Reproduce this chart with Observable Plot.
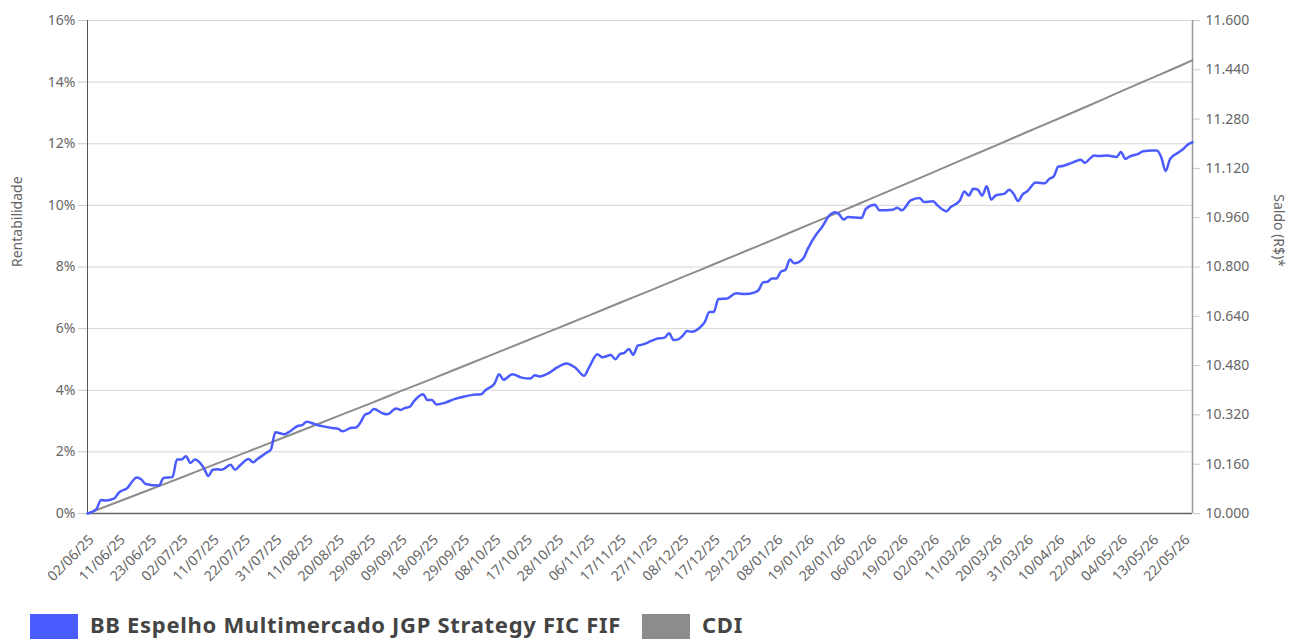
<!DOCTYPE html>
<html><head><meta charset="utf-8">
<script src="https://cdn.jsdelivr.net/npm/d3@7"></script>
<script src="https://cdn.jsdelivr.net/npm/@observablehq/plot@0.6"></script>
<style>
body{margin:0;background:#fff;font-family:"Noto Sans",sans-serif;}
#wrap{position:relative;width:1289px;height:639px;overflow:hidden;}
#legend{position:absolute;left:0;top:614px;width:1289px;height:25px;}
.item{position:absolute;top:0;display:flex;align-items:flex-start;}
.sw{width:48px;height:26px;margin-right:12px;}
.lab{font-family:"Noto Sans",sans-serif;font-weight:bold;font-size:22px;color:#444;line-height:22px;margin-top:-1px;letter-spacing:0.7px;}
</style></head><body>
<div id="wrap"><div id="chart"></div><div id="legend"></div></div>
<script>
// x tick labels (every 7 business days) and their business-day numbers
const tickLabels = ["02/06/25","11/06/25","23/06/25","02/07/25","11/07/25","22/07/25","31/07/25","11/08/25","20/08/25","29/08/25","09/09/25","18/09/25","29/09/25","08/10/25","17/10/25","28/10/25","06/11/25","17/11/25","27/11/25","08/12/25","17/12/25","29/12/25","08/01/26","19/01/26","28/01/26","06/02/26","19/02/26","02/03/26","11/03/26","20/03/26","31/03/26","10/04/26","22/04/26","04/05/26","13/05/26","22/05/26"];
const tickDays = [0,7,14,21,28,35,42,49,56,63,70,77,84,91,98,105,112,119,126,133,140,147,154,161,168,175,182,189,196,203,210,217,224,231,238,245];
const lastDay = 247;

// Fund (BB Espelho Multimercado JGP Strategy FIC FIF) accumulated return, %
const fundDay = [0,2,3,4,6,7,9,10,11,12,13,16,17,19,20,21,22,23,24,26,27,28,29,30,32,33,34,36,37,38,40,41,42,44,45,47,48,49,51,53,55,56,57,59,60,61,62,63,64,66,67,69,70,71,72,73,75,76,77,78,80,82,84,86,88,89,91,92,93,95,97,99,100,101,103,105,107,109,111,112,114,115,117,118,119,120,121,122,123,124,126,127,129,130,131,132,133,134,135,137,138,139,140,141,143,145,147,149,150,151,152,153,154,155,156,157,158,160,161,163,164,166,167,168,169,170,173,174,176,177,180,181,182,184,186,187,189,190,192,193,195,196,197,198,199,200,201,202,203,205,206,207,208,209,210,212,214,215,216,217,218,220,222,223,224,225,226,228,230,231,232,233,235,236,238,239,240,241,242,244,245,246,247];
const fundPct = [0,0.14,0.44,0.42,0.49,0.68,0.84,1.04,1.17,1.11,0.96,0.91,1.15,1.18,1.75,1.75,1.86,1.64,1.75,1.48,1.22,1.42,1.44,1.42,1.58,1.42,1.55,1.77,1.66,1.77,1.97,2.08,2.64,2.57,2.64,2.84,2.87,2.98,2.89,2.82,2.77,2.75,2.67,2.78,2.79,2.95,3.20,3.26,3.39,3.25,3.22,3.41,3.36,3.43,3.46,3.65,3.87,3.68,3.68,3.54,3.60,3.71,3.79,3.85,3.87,4.01,4.22,4.52,4.34,4.52,4.41,4.38,4.49,4.45,4.55,4.74,4.87,4.74,4.47,4.71,5.17,5.07,5.14,5.01,5.17,5.21,5.34,5.15,5.45,5.48,5.60,5.66,5.71,5.85,5.63,5.65,5.76,5.92,5.90,6.05,6.22,6.54,6.54,6.96,6.98,7.15,7.12,7.17,7.25,7.50,7.52,7.63,7.63,7.85,7.91,8.24,8.12,8.28,8.59,9.08,9.26,9.70,9.78,9.71,9.54,9.62,9.59,9.89,10.02,9.84,9.86,9.92,9.84,10.16,10.24,10.11,10.13,10.00,9.81,9.95,10.16,10.45,10.32,10.54,10.51,10.32,10.62,10.19,10.32,10.38,10.51,10.38,10.14,10.35,10.45,10.74,10.72,10.86,10.94,11.26,11.28,11.38,11.48,11.38,11.51,11.62,11.60,11.62,11.57,11.73,11.51,11.59,11.68,11.76,11.78,11.78,11.57,11.11,11.51,11.73,11.84,11.98,12.05];

// CDI accumulated return, %
const cdiDay = [0,7,14,21,28,35,42,49,56,63,70,77,84,91,98,105,112,119,126,133,140,147,154,161,168,175,182,189,196,203,210,217,224,231,238,245,247];
const cdiPct = [0,0.39,0.78,1.17,1.57,1.96,2.36,2.76,3.16,3.56,3.97,4.37,4.78,5.19,5.60,6.01,6.42,6.84,7.25,7.67,8.09,8.51,8.93,9.36,9.78,10.21,10.64,11.07,11.51,11.94,12.38,12.81,13.25,13.70,14.14,14.58,14.71];

// axes
const pctTicks = [0,2,4,6,8,10,12,14,16];
const saldoTicks = [10000,10160,10320,10480,10640,10800,10960,11120,11280,11440,11600];
const saldoBase = 10000;

const fund = fundDay.map((d,i)=>({day:d,pct:fundPct[i]}));
const cdi = cdiDay.map((d,i)=>({day:d,pct:cdiPct[i]}));
const labelByDay = new Map(tickDays.map((d,i)=>[d,tickLabels[i]]));
const br = d3.formatLocale({decimal:",",thousands:".",grouping:[3],currency:["R$",""]}).format(",d");
const saldoPos = saldoTicks.map(s => (s/saldoBase - 1)*100);
const saldoByPos = new Map(saldoPos.map((p,i)=>[p, br(saldoTicks[i])]));

const plot = Plot.plot({
  width:1289, height:605,
  marginLeft:87, marginRight:97, marginTop:20, marginBottom:92,
  style:{fontFamily:"Noto Sans", fontSize:"14px", color:"#666", background:"#fff"},
  x:{domain:[0,lastDay], axis:null},
  y:{domain:[0,16], axis:null},
  marks:[
    Plot.gridY(pctTicks, {stroke:"#d6d6d6", strokeOpacity:1, strokeWidth:1}),
    Plot.axisY({ticks:pctTicks, tickFormat:d=>d+"%", tickSize:9, tickPadding:3, stroke:"#c8c8c8", fill:"#666", fontSize:14, label:null}),
    Plot.axisY({anchor:"right", ticks:saldoPos, tickFormat:d=>saldoByPos.get(d), tickSize:7, tickPadding:6, stroke:"#c8c8c8", fill:"#666", fontSize:14, label:null}),
    Plot.axisX({ticks:tickDays, tickFormat:d=>labelByDay.get(d), tickRotate:-45, tickSize:0, tickPadding:8, dx:4, dy:16, fill:"#666", fontSize:14, label:null}),
    Plot.ruleX([0], {stroke:"#555", strokeWidth:1}),
    Plot.ruleX([lastDay], {stroke:"#999", strokeWidth:1.5}),
    Plot.ruleY([0], {stroke:"#666", strokeWidth:1.5}),
    Plot.line(cdi, {x:"day", y:"pct", stroke:"#8c8c8c", strokeWidth:2, curve:"monotone-x"}),
    Plot.line(fund, {x:"day", y:"pct", stroke:"#4a5cff", strokeWidth:2.5, curve:"monotone-x"}),
    Plot.text(["Rentabilidade"], {frameAnchor:"left", dx:-70, rotate:-90, fill:"#666", fontSize:14}),
    Plot.text(["Saldo (R$)*"], {frameAnchor:"right", dx:86, rotate:90, fill:"#666", fontSize:14})
  ]
});
document.getElementById("chart").append(plot);

const legendItems = [
  {name:"BB Espelho Multimercado JGP Strategy FIC FIF", color:"#4a5cff", left:30},
  {name:"CDI", color:"#8c8c8c", left:642}
];
const lg = document.getElementById("legend");
for (const it of legendItems) {
  const d = document.createElement("div");
  d.className = "item"; d.style.left = it.left + "px";
  const s = document.createElement("div"); s.className = "sw"; s.style.background = it.color;
  const t = document.createElement("div"); t.className = "lab"; t.textContent = it.name;
  d.append(s, t); lg.append(d);
}
</script>
</body></html>
